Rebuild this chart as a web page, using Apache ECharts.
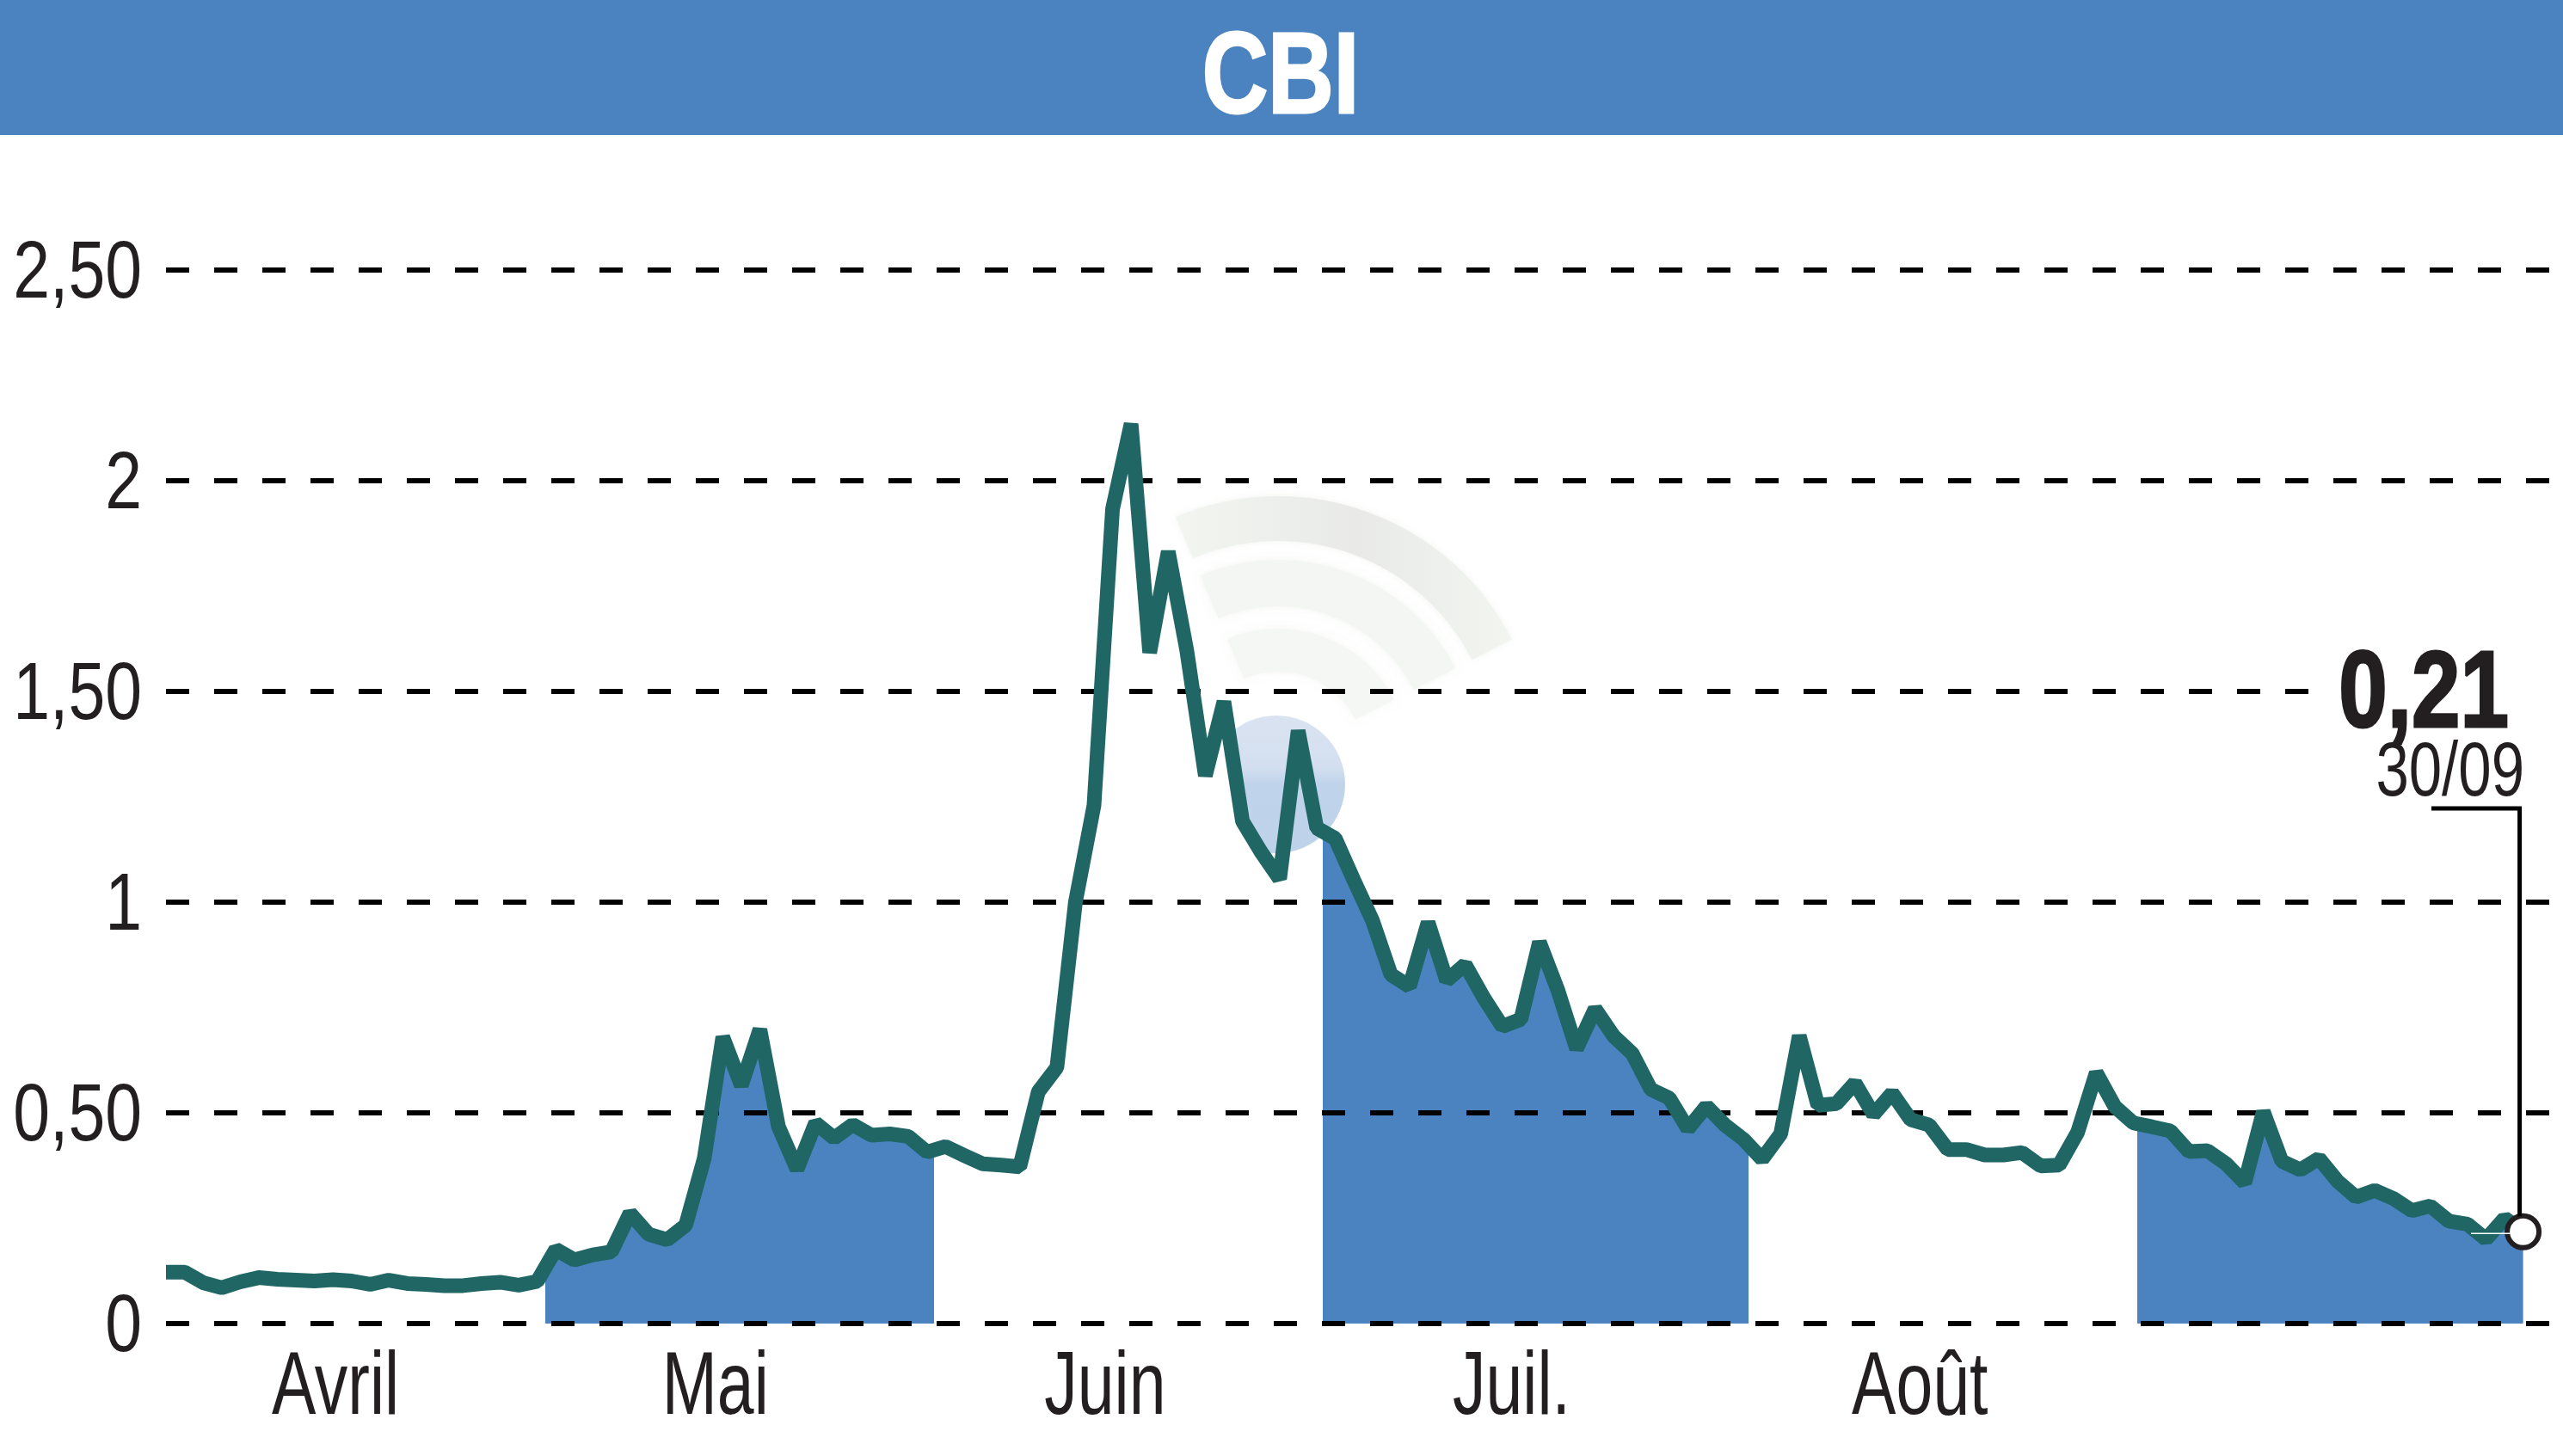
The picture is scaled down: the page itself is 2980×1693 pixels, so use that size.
<!DOCTYPE html>
<html>
<head>
<meta charset="utf-8">
<style>html,body{margin:0;padding:0;background:#fff}#c{width:2980px;height:1693px}</style>
<script src="https://cdn.jsdelivr.net/npm/echarts@6/dist/echarts.min.js"></script>
</head>
<body>
<div id="c"></div>
<script>
const titleText = 'CBI';
const prices = [
 .122,.122,.097,.085,.099,.109,.105,.103,.101,.104,.101,.093,.103,.095,.093,.090,.090,.095,.098,.091,
 .100,.176,.151,.163,.170,.262,.212,.199,.233,.392,.680,.565,.698,.467,.366,.476,.440,.472,.447,.450,
 .444,.407,.420,.399,.379,.376,.372,.550,.608,1.00,1.23,1.933,2.135,1.592,1.832,1.597,1.300,1.476,1.192,1.119,
 1.055,1.407,1.176,1.151,1.052,.957,.828,.800,.952,.814,.852,.773,.705,.722,.905,.790,.652,.747,.682,.641,
 .556,.535,.462,.516,.471,.437,.390,.450,.683,.518,.522,.571,.496,.547,.484,.471,.413,.413,.400,.400,
 .406,.374,.376,.454,.595,.515,.476,.467,.457,.408,.410,.379,.334,.503,.385,.365,.392,.338,.300,.316,
 .297,.268,.279,.243,.236,.200,.250,.218
];
const valueTicks = [0, 0.5, 1, 1.5, 2, 2.5];
const valueTickLabels = ['0', '0,50', '1', '1,50', '2', '2,50'];
const monthNames = ['Avril', 'Mai', 'Juin', 'Juil.', 'Août'];
const monthLabelAt = [9.13, 29.6, 50.6, 72.5, 94.5];
const monthEdges = [20.44, 41.38, 62.33, 85.25, 106.2];
const lastValueLabel = '0,21';
const lastDateLabel = '30/09';

const BLUE = '#4a83c0', LINE = '#1f6665', INK = '#231f20', CLEAR = 'rgba(255,255,255,0)';
const SANS = '"Liberation Sans",sans-serif';
const points = prices.map((v, i) => [i, v]);

const chart = echarts.init(document.getElementById('c'), null, {renderer: 'canvas', width: 2980, height: 1693});

chart.setOption({
  animation: false,
  backgroundColor: '#ffffff',
  grid: {left: 193, right: 0, top: 314, bottom: 154, containLabel: false, outerBoundsMode: 'none'},
  xAxis: {
    type: 'value', min: 0, max: 129.15,
    axisLine: {show: false}, axisTick: {show: false}, splitLine: {show: false}, axisLabel: {show: false}
  },
  yAxis: {
    type: 'value', min: 0, max: 2.5, interval: 0.5, z: 1,
    axisLine: {show: false}, axisTick: {show: false}, axisLabel: {show: false},
    splitLine: {show: true, lineStyle: {color: '#000000', width: 6, type: [27, 29]}}
  },
  visualMap: {
    show: false, type: 'piecewise', dimension: 0, seriesIndex: 0,
    pieces: [
      {lt: monthEdges[0], color: CLEAR},
      {gte: monthEdges[0], lt: monthEdges[1], color: BLUE},
      {gte: monthEdges[1], lt: monthEdges[2], color: CLEAR},
      {gte: monthEdges[2], lt: monthEdges[3], color: BLUE},
      {gte: monthEdges[3], lt: monthEdges[4], color: CLEAR},
      {gte: monthEdges[4], color: BLUE}
    ]
  },
  series: [
    {
      type: 'line', z: 0, data: points, symbol: 'none', silent: true,
      lineStyle: {width: 0}, areaStyle: {opacity: 1}
    },
    {
      type: 'line', z: 3, data: points, silent: true, smooth: false,
      symbol: (v, p) => p.dataIndex === prices.length - 1 ? 'circle' : 'none',
      symbolSize: 37, showAllSymbol: true,
      itemStyle: {color: '#ffffff', borderColor: INK, borderWidth: 6},
      lineStyle: {color: LINE, width: 17, join: 'bevel', cap: 'butt'}
    }
  ]
});

const px = p => chart.convertToPixel({gridIndex: 0}, p);
const end = px(points[points.length - 1]);

// Condensed text: the reference face is narrow, so real text is squeezed horizontally.
// base = baseline pixel; top-aligned text draws its baseline 0.8em below y.
const label = (text, x, base, size, scaleX, align, weight, fill, z, thicken) => ({
  type: 'text', z: z || 7, silent: true, x: x, y: base - size * 0.8, originX: 0, originY: 0, scaleX: scaleX,
  style: {text: text, align: align, verticalAlign: 'top', fill: fill || INK,
          stroke: thicken ? (fill || INK) : null, lineWidth: thicken || 0,
          font: (weight || 'normal') + ' ' + size + 'px ' + SANS}
});

const wave = (r, lw, color, shadow) => ({
  type: 'arc', z: -5, silent: true,
  shape: {cx: 1486, cy: 882, r: r, startAngle: 247 * Math.PI / 180, endAngle: 333 * Math.PI / 180, clockwise: true},
  style: {stroke: color, lineWidth: lw, fill: null, lineCap: 'butt', shadowBlur: 8, shadowColor: shadow}
});

const maskPts = [[1395, 825], px(points[57]), px(points[58]), px(points[59]), px(points[60]), [1500, 1040], [1395, 1040]];
const lastTickY = px([0, 1.5])[1];

chart.setOption({
  graphic: [
    {type: 'rect', z: 5, silent: true, shape: {x: 0, y: 0, width: 2980, height: 157}, style: {fill: BLUE}},
    label(titleText, 1489, 134, 134, .79, 'center', 'bold', '#ffffff', 6, 3),
    wave(279, 52, {type: 'linear', x: 0, y: 0, x2: 1, y2: 0, colorStops: [
      {offset: 0, color: '#f3f6f1'}, {offset: .55, color: '#e9eae8'}, {offset: 1, color: '#f2f5f0'}]}, '#f3f5f1'),
    wave(204, 54, '#f3f6f2', '#f3f6f2'),
    wave(126, 50, '#f5f7f4', '#f5f7f4'),
    {type: 'circle', z: -4, silent: true, shape: {cx: 1484, cy: 912, r: 80},
     style: {fill: {type: 'linear', x: 0, y: 0, x2: 0, y2: 1, colorStops: [
       {offset: 0, color: '#dae3f1'}, {offset: .38, color: '#d3dff0'}, {offset: .5, color: '#bfd3ea'}, {offset: 1, color: '#bed2e9'}]}}},
    {type: 'polygon', z: -3, silent: true, shape: {points: maskPts}, style: {fill: '#ffffff'}},
    {type: 'rect', z: 4, silent: true, shape: {x: 2702, y: lastTickY - 8, width: 262, height: 16}, style: {fill: '#ffffff'}},
    {type: 'polyline', z: 6, silent: true,
     shape: {points: [[2827, 940], [end[0] - 4, 940], [end[0] - 4, end[1] - 18]]},
     style: {stroke: '#000000', lineWidth: 5, fill: null}},
    {type: 'line', z: 6, silent: true,
     shape: {x1: 2873, y1: end[1] + 2, x2: end[0] - 15, y2: end[1] + 2},
     style: {stroke: '#ffffff', lineWidth: 1.5}},
    label(lastValueLabel, 2917, 848, 127, .8, 'right', 'bold', INK, 7, 3),
    label(lastDateLabel, 2935, 927, 89, .775, 'right'),
    ...valueTicks.map((v, i) => label(valueTickLabels[i], 165, px([0, v])[1] + 34, 95, .81, 'right')),
    ...monthLabelAt.map((m, i) => label(monthNames[i], px([m, 0])[0], 1647, 104, .74, 'center'))
  ]
});
</script>
</body>
</html>
